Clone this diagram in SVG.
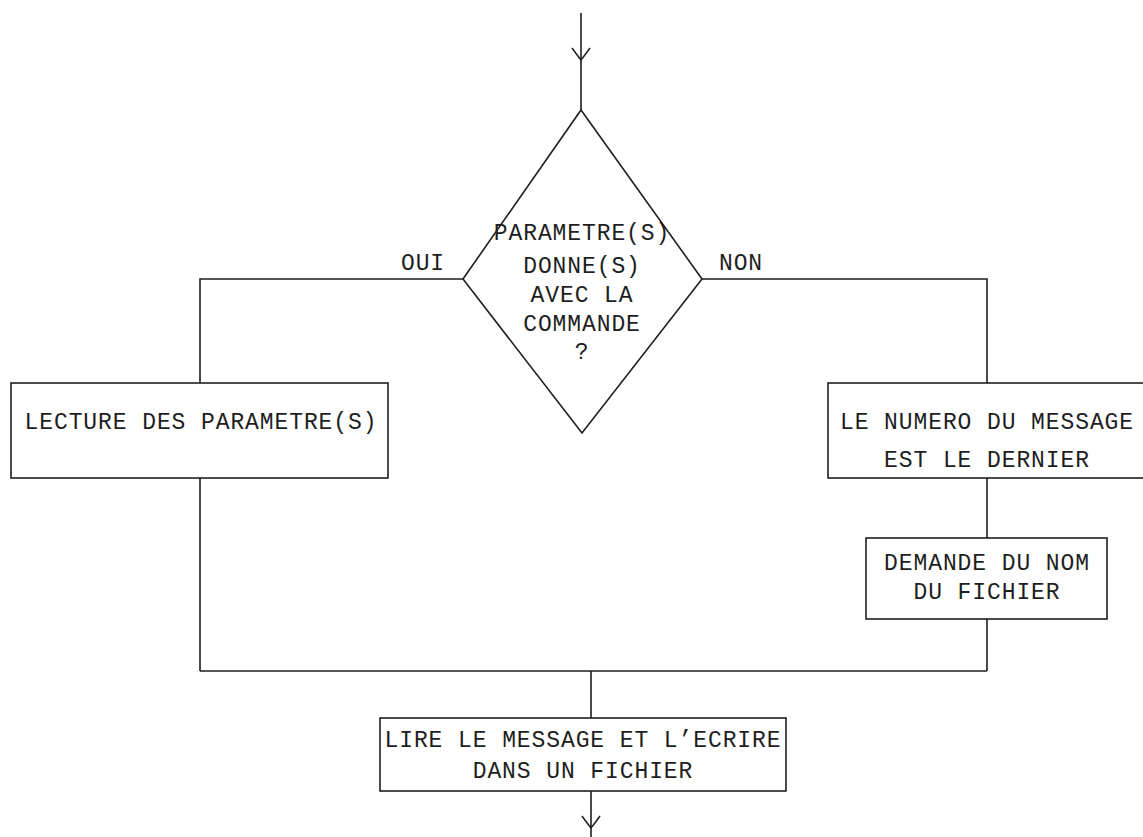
<svg xmlns="http://www.w3.org/2000/svg" width="1143" height="837" viewBox="0 0 1143 837">
  <defs>
    <marker id="vhead" markerUnits="userSpaceOnUse" markerWidth="30" markerHeight="30" viewBox="-15 -15 30 30" refX="0" refY="0" orient="auto">
      <path d="M -12 -9 Q -5 -4 0 0 Q -5 4 -12 9" fill="none" stroke="#1e1e1e" stroke-width="1.5"/>
    </marker>
  </defs>
  <style>
    .shape { fill: none; stroke: #1e1e1e; stroke-width: 1.6; }
    .conn { fill: none; stroke: #1e1e1e; stroke-width: 1.6; }
    .t { font-family: "Liberation Mono", "DejaVu Sans Mono", monospace; font-size: 23px; letter-spacing: 0.9px; fill: #1e1e1e; text-anchor: middle; }
  </style>
  <rect width="1143" height="837" fill="#ffffff"/>

  <g id="connectors">
    <line class="conn" x1="581" y1="13" x2="581" y2="60" marker-end="url(#vhead)"/>
    <line class="conn" x1="581" y1="60" x2="581" y2="110"/>
    <polyline class="conn" points="463,279 200,279 200,383"/>
    <polyline class="conn" points="702,279 987,279 987,383"/>
    <line class="conn" x1="200" y1="478" x2="200" y2="671"/>
    <line class="conn" x1="987" y1="478" x2="987" y2="538"/>
    <line class="conn" x1="987" y1="619" x2="987" y2="671"/>
    <line class="conn" x1="200" y1="671" x2="987" y2="671"/>
    <line class="conn" x1="591" y1="671" x2="591" y2="718"/>
    <line class="conn" x1="591" y1="791" x2="591" y2="828" marker-end="url(#vhead)"/>
    <line class="conn" x1="591" y1="828" x2="591" y2="837"/>
    <text class="t" x="423" y="270">OUI</text>
    <text class="t" x="741" y="270">NON</text>
  </g>

  <g id="decision">
    <polygon class="shape" points="581,110 702,279 582,433 463,279"/>
    <text class="t" x="582" y="240">PARAMETRE(S)</text>
    <text class="t" x="582" y="273">DONNE(S)</text>
    <text class="t" x="582" y="302">AVEC LA</text>
    <text class="t" x="582" y="331">COMMANDE</text>
    <text class="t" x="582" y="359">?</text>
  </g>

  <g id="lecture">
    <rect class="shape" x="11" y="383" width="377" height="95"/>
    <text class="t" x="201" y="429">LECTURE DES PARAMETRE(S)</text>
  </g>

  <g id="numero">
    <rect class="shape" x="828" y="383" width="330" height="95"/>
    <text class="t" x="987" y="429">LE NUMERO DU MESSAGE</text>
    <text class="t" x="987" y="467">EST LE DERNIER</text>
  </g>

  <g id="demande">
    <rect class="shape" x="866" y="538" width="241" height="81"/>
    <text class="t" x="987" y="570">DEMANDE DU NOM</text>
    <text class="t" x="987" y="599">DU FICHIER</text>
  </g>

  <g id="lire">
    <rect class="shape" x="380" y="718" width="406" height="73"/>
    <text class="t" x="583" y="747">LIRE LE MESSAGE ET L’ECRIRE</text>
    <text class="t" x="583" y="778">DANS UN FICHIER</text>
  </g>
</svg>
